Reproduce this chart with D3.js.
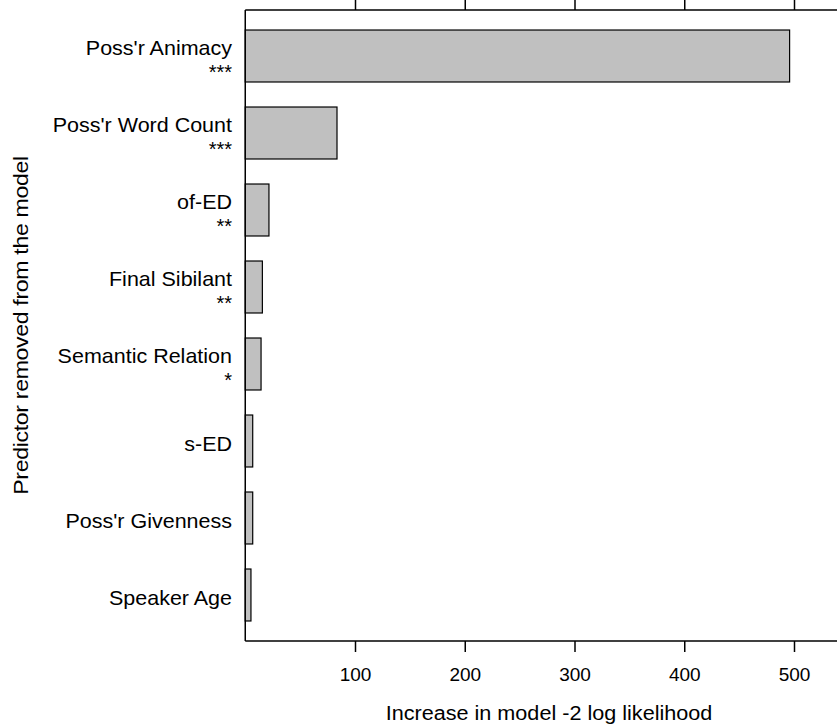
<!DOCTYPE html>
<html>
<head>
<meta charset="utf-8">
<script src="https://cdn.jsdelivr.net/npm/d3@7"></script>
<style>
  html, body { margin: 0; padding: 0; background: #fff; }
  svg { display: block; }
  text { font-family: Arial, "Liberation Sans", sans-serif; fill: #000; }
</style>
</head>
<body>
<svg id="chart" width="837" height="728"></svg>
<script>
const predictors = ["Poss'r Animacy", "Poss'r Word Count", "of-ED", "Final Sibilant",
                    "Semantic Relation", "s-ED", "Poss'r Givenness", "Speaker Age"];
const significance = ["***", "***", "**", "**", "*", "", "", ""];
const increase = [496, 83.6, 21.6, 15.6, 14.4, 6.8, 6.8, 5.2];
const xTicks = [100, 200, 300, 400, 500];
const xTitle = "Increase in model -2 log likelihood";
const yTitle = "Predictor removed from the model";

(function () {
const svg = d3.select("#chart");
const plotLeft = 245.25, plotTop = 10, plotBottom = 641;

const x = d3.scaleLinear().domain([0, 545]).range([plotLeft, plotLeft + 545 * 1.0975]);
const y = d3.scaleBand().domain(predictors).range([plotTop, plotBottom])
  .paddingInner(0.325).paddingOuter(0.26);

// bars
svg.append("g").selectAll("rect").data(predictors).join("rect")
  .attr("x", x(0))
  .attr("y", d => y(d))
  .attr("width", (d, i) => x(increase[i]) - x(0))
  .attr("height", y.bandwidth())
  .attr("fill", "#c0c0c0")
  .attr("stroke", "#000")
  .attr("stroke-width", 1.2);

// frame lines
const frame = svg.append("g").attr("stroke", "#000").attr("stroke-width", 1.5).attr("fill", "none");
frame.append("line").attr("x1", plotLeft).attr("x2", 900).attr("y1", plotTop).attr("y2", plotTop);
frame.append("line").attr("x1", plotLeft).attr("x2", 900).attr("y1", plotBottom).attr("y2", plotBottom);
frame.append("line").attr("x1", plotLeft).attr("x2", plotLeft).attr("y1", plotTop).attr("y2", plotBottom);

// bottom axis
const xAxisB = svg.append("g").attr("transform", `translate(0,${plotBottom})`)
  .call(d3.axisBottom(x).tickValues(xTicks).tickSize(11).tickPadding(16).tickFormat(d3.format("d")));
xAxisB.select(".domain").remove();
xAxisB.selectAll(".tick line").attr("stroke", "#000").attr("stroke-width", 1.5);
xAxisB.selectAll(".tick text").attr("font-size", 19).attr("font-family", "Arial, 'Liberation Sans', sans-serif");

// top axis (ticks only)
const xAxisT = svg.append("g").attr("transform", `translate(0,${plotTop})`)
  .call(d3.axisTop(x).tickValues(xTicks).tickSize(12).tickFormat(""));
xAxisT.select(".domain").remove();
xAxisT.selectAll(".tick line").attr("stroke", "#000").attr("stroke-width", 1.5);

// category labels
const lab = svg.append("g").attr("font-size", 20).attr("text-anchor", "end");
predictors.forEach((p, i) => {
  const c = y(p) + y.bandwidth() / 2;
  if (significance[i]) {
    lab.append("text").attr("transform", `translate(232,${c - 1}) scale(1.075,1)`).text(p);
    lab.append("text").attr("transform", `translate(232,${c + 23}) scale(1,1)`).text(significance[i]);
  } else {
    lab.append("text").attr("transform", `translate(232,${c + 10}) scale(1.075,1)`).text(p);
  }
});

// axis titles
svg.append("text").attr("transform", "translate(549,720) scale(1.03,1)").attr("text-anchor", "middle")
  .attr("font-size", 21).text(xTitle);
svg.append("text").attr("transform", `translate(28,${(plotTop + plotBottom) / 2}) rotate(-90) scale(1.1,1)`)
  .attr("text-anchor", "middle").attr("font-size", 21).attr("letter-spacing", "-0.3")
  .text(yTitle);
})();
</script>
</body>
</html>
